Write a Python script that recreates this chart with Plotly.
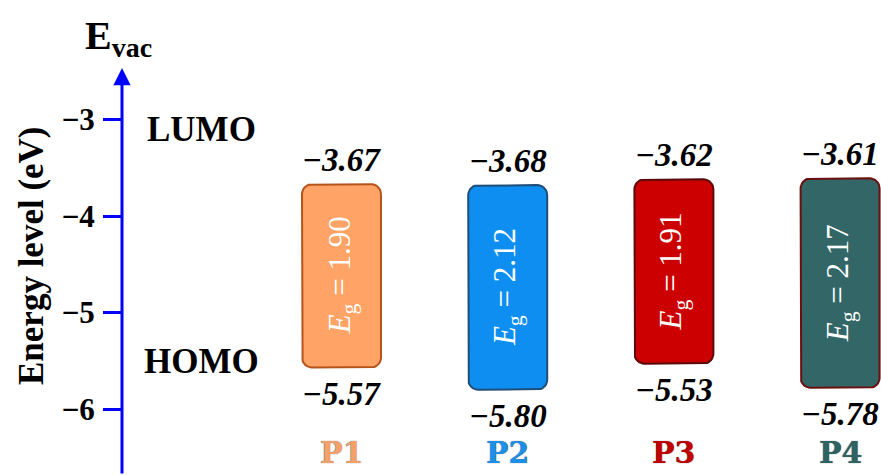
import numpy as np
import plotly.graph_objects as go

# Frontier orbital energies (eV) of the four polymers
polymers = ["P1", "P2", "P3", "P4"]
lumo = [-3.67, -3.68, -3.62, -3.61]
homo = [-5.57, -5.80, -5.53, -5.78]
y_ticks = [-6, -5, -4, -3]

fill_colors = ["#FFA366", "#0D8EF0", "#CC0000", "#336666"]
edge_colors = ["#B5541A", "#1F4E79", "#5A0A0A", "#6B0F0F"]
name_colors = ["#F4A06A", "#1E8FE8", "#C00000", "#2E6363"]

# Canvas geometry
W, H = 881, 475
L = 122                      # left margin: the energy axis sits here
PW, PH = W - L, H
PX_PER_EV = 96.5
PX_PER_SLOT = 166.2
Y_RANGE = [-3 - (PH - 119.5) / PX_PER_EV, -3 + 119.5 / PX_PER_EV]
X_RANGE = [-(341.5 - L) / PX_PER_SLOT, (W - 341.5) / PX_PER_SLOT]

SERIF = "Liberation Serif"


def paper_x(px):
    return (px - L) / PW


def paper_y(py):
    return 1 - py / PH


def rounded_box(xc, y_bot, y_top, half_w, r_px=10, n=10):
    """Outline of a rounded rectangle in data units."""
    rx = r_px / PX_PER_SLOT
    ry = r_px / PX_PER_EV
    x0, x1 = xc - half_w, xc + half_w
    corners = [
        (x1 - rx, y_top - ry, 0.0),
        (x0 + rx, y_top - ry, 0.5 * np.pi),
        (x0 + rx, y_bot + ry, np.pi),
        (x1 - rx, y_bot + ry, 1.5 * np.pi),
    ]
    xs, ys = [], []
    for cx, cy, a0 in corners:
        t = np.linspace(a0, a0 + 0.5 * np.pi, n)
        xs.extend(cx + rx * np.cos(t))
        ys.extend(cy + ry * np.sin(t))
    xs.append(xs[0])
    ys.append(ys[0])
    return xs, ys


def fmt(v):
    return f"{v:.2f}".replace("-", "\u2212")


def label(**kw):
    base = dict(showarrow=False, xanchor="center", yanchor="middle")
    base.update(kw)
    return base


fig = go.Figure()
annotations = []
half_w = 39.5 / PX_PER_SLOT
value_font = dict(family=SERIF, size=33, color="black",
                  weight="bold", style="italic")

for i, name in enumerate(polymers):
    xs, ys = rounded_box(i, homo[i], lumo[i], half_w)
    fig.add_trace(go.Scatter(
        x=xs, y=ys, mode="lines", fill="toself",
        fillcolor=fill_colors[i],
        line=dict(color=edge_colors[i], width=2),
        hoverinfo="skip", showlegend=False,
    ))
    gap = lumo[i] - homo[i]
    annotations.append(label(
        x=i, y=(lumo[i] + homo[i]) / 2, xref="x", yref="y",
        text=f"<i>E</i><sub>g</sub> = {gap:.2f}", textangle=-90,
        font=dict(family=SERIF, size=31, color="white"),
    ))
    annotations.append(label(
        x=i, y=lumo[i], xref="x", yref="y", yanchor="bottom", yshift=4,
        text=fmt(lumo[i]), font=value_font,
    ))
    annotations.append(label(
        x=i, y=homo[i], xref="x", yref="y", yanchor="top", yshift=-6,
        text=fmt(homo[i]), font=value_font,
    ))
    annotations.append(label(
        x=i, y=paper_y(452), xref="x", yref="paper", text=name,
        font=dict(family="DejaVu Serif", size=30, color=name_colors[i],
                  weight="bold", shadow="0px 0px 1px #444"),
    ))

# Energy axis drawn as an upward arrow
annotations.append(dict(
    x=0, y=paper_y(68), xref="paper", yref="paper",
    ax=0, ay=H - 68, axref="pixel", ayref="pixel",
    text="", showarrow=True, arrowhead=2, arrowsize=1.15,
    arrowwidth=3, arrowcolor="#0000FF", standoff=0,
))
annotations += [
    label(x=paper_x(118), y=paper_y(38), xref="paper", yref="paper",
          text="<b>E<sub>vac</sub></b>",
          font=dict(family=SERIF, size=40, color="black")),
    label(x=paper_x(201), y=paper_y(130), xref="paper", yref="paper",
          text="<b>LUMO</b>",
          font=dict(family=SERIF, size=35, color="black")),
    label(x=paper_x(201), y=paper_y(361), xref="paper", yref="paper",
          text="<b>HOMO</b>",
          font=dict(family=SERIF, size=35, color="black")),
    label(x=paper_x(31), y=paper_y(256), xref="paper", yref="paper",
          text="<b>Energy level (eV)</b>", textangle=-90,
          font=dict(family=SERIF, size=35, color="black")),
]

fig.update_layout(
    width=W, height=H,
    margin=dict(l=L, r=0, t=0, b=0),
    paper_bgcolor="white", plot_bgcolor="white",
    annotations=annotations,
    xaxis=dict(range=X_RANGE, visible=False, fixedrange=True),
    yaxis=dict(
        range=Y_RANGE, tickvals=y_ticks,
        ticktext=[fmt(v).replace(".00", "") for v in y_ticks],
        ticks="outside", ticklen=18, tickwidth=3, tickcolor="#0000FF",
        showline=False, showgrid=False, zeroline=False,
        tickfont=dict(family=SERIF, size=31, color="black", weight="bold"),
        ticklabelstandoff=2, fixedrange=True,
    ),
)

fig.write_html("out.html")
